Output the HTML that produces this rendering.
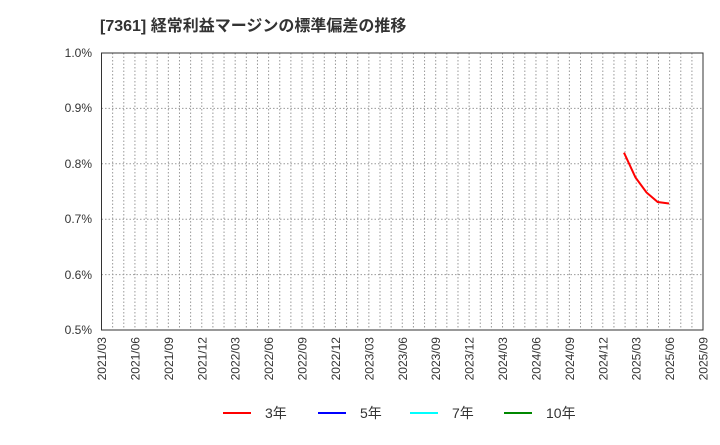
<!DOCTYPE html><html><head><meta charset="utf-8"><style>body{margin:0;background:#fff}</style></head><body>
<svg width="720" height="440" xmlns="http://www.w3.org/2000/svg" font-family="Liberation Sans, Noto Sans CJK JP, sans-serif">
<text x="100" y="31" font-size="16" font-weight="bold" fill="#333">[7361]  経常利益マージンの標準偏差の推移</text>
<g stroke="#999" stroke-dasharray="1.5,2" stroke-width="1">
<path d="M101.5 108.4H703M101.5 163.8H703M101.5 219.2H703M101.5 274.6H703"/>
</g>
<g stroke="#999" stroke-dasharray="1.5,2" stroke-width="1" id="vg"></g>
<rect x="101.5" y="53" width="601.5" height="277" fill="none" stroke="#333"/>
<g font-size="12" fill="#333" text-anchor="end">
<text x="92" y="57">1.0%</text><text x="92" y="112">0.9%</text><text x="92" y="168">0.8%</text><text x="92" y="223">0.7%</text><text x="92" y="279">0.6%</text><text x="92" y="334">0.5%</text>
</g>
<g id="xl" font-size="12" fill="#333"></g>
<polyline fill="none" stroke="#f00" stroke-width="2" points="624,152.7 635.5,177.5 646.5,192.5 657.7,202 669,203.5"/>
<g font-size="14" fill="#333">
<line x1="223" y1="413" x2="251" y2="413" stroke="#f00" stroke-width="2"/><text x="265" y="418">3年</text>
<line x1="318" y1="413" x2="346" y2="413" stroke="#00f" stroke-width="2"/><text x="360" y="418">5年</text>
<line x1="410" y1="413" x2="438" y2="413" stroke="#0ff" stroke-width="2"/><text x="452" y="418">7年</text>
<line x1="504" y1="413" x2="532" y2="413" stroke="#080" stroke-width="2"/><text x="546" y="418">10年</text>
</g>
<script>
var ns="http://www.w3.org/2000/svg",vg=document.getElementById("vg"),xl=document.getElementById("xl");
for(var m=1;m<54;m++){var x=101.5+m*11.14;var l=document.createElementNS(ns,"line");l.setAttribute("x1",x);l.setAttribute("x2",x);l.setAttribute("y1",53);l.setAttribute("y2",330);vg.appendChild(l);}
for(var i=0;i<19;i++){var mm=2+i*3,y=2021+Math.floor(mm/12),mo=mm%12+1;var x=101.5+i*3*11.14+4.5;var t=document.createElementNS(ns,"text");t.setAttribute("transform","translate("+x+",337) rotate(-90)");t.setAttribute("text-anchor","end");t.textContent=y+"/"+(mo<10?"0":"")+mo;xl.appendChild(t);}
</script>
</svg></body></html>
